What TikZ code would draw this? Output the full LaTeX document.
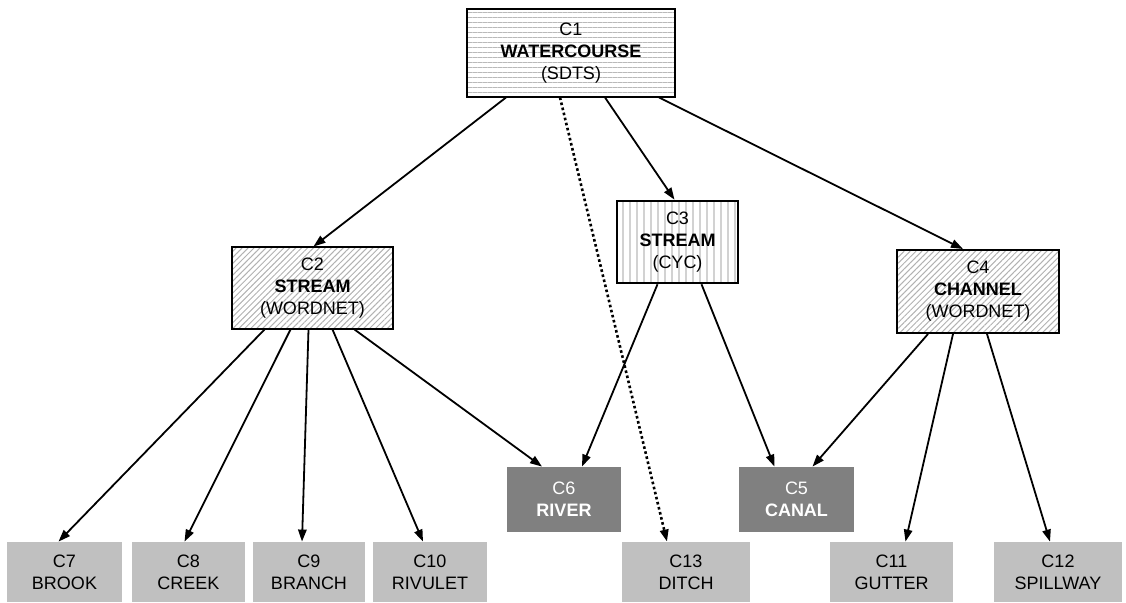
\documentclass[tikz,border=0pt]{standalone}
\usepackage{fontspec}
\setmainfont{Liberation Sans}
\usetikzlibrary{patterns.meta,arrows.meta}

\begin{document}
\begin{tikzpicture}[x=0.5pt,y=-0.5pt,
    every node/.style={font=\fontsize{9}{11}\selectfont, align=center, inner sep=0pt},
    concept/.style={draw=black, line width=1pt},
    sdts/.style={concept, pattern={Lines[angle=0,distance=2.5pt,line width=0.5pt]}, pattern color=gray!55},
    wordnet/.style={concept, pattern={Lines[angle=45,distance=2.1pt,line width=0.5pt]}, pattern color=gray!60},
    cyc/.style={concept, pattern={Lines[angle=90,distance=3.5pt,line width=1.3pt]}, pattern color=gray!35},
    shared/.style={fill={rgb,255:red,128;green,128;blue,128}, text=white, minimum height=32.5pt},
    leaf/.style={fill={rgb,255:red,192;green,192;blue,192}, minimum height=30pt},
    link/.style={line width=0.9pt, -{Triangle[length=6pt,width=4.2pt]}},
    seealso/.style={link, line width=1.3pt, dash pattern=on 1.3pt off 1.3pt}]

    \useasboundingbox (0,0) rectangle (1126,603);

    % source concepts
    \node[sdts, minimum width=104pt, minimum height=44pt] (c1) at (571,53) {C1\\\textbf{WATERCOURSE}\\(SDTS)};
    \node[wordnet, minimum width=80.5pt, minimum height=41pt] (c2) at (312.5,288) {C2\\\textbf{STREAM}\\(WORDNET)};
    \node[cyc, minimum width=60.5pt, minimum height=41pt] (c3) at (677.5,242) {C3\\\textbf{STREAM}\\(CYC)};
    \node[wordnet, minimum width=81pt, minimum height=41.5pt] (c4) at (978,291.5) {C4\\\textbf{CHANNEL}\\(WORDNET)};

    % shared concepts
    \node[shared, minimum width=57pt] (c6) at (564,499.5) {C6\\\textbf{RIVER}};
    \node[shared, minimum width=57.5pt] (c5) at (796.5,499.5) {C5\\\textbf{CANAL}};

    % leaves
    \node[leaf, minimum width=57.5pt] (c7) at (64.5,572) {C7\\BROOK};
    \node[leaf, minimum width=56.5pt] (c8) at (188.5,572) {C8\\CREEK};
    \node[leaf, minimum width=56pt] (c9) at (309,572) {C9\\BRANCH};
    \node[leaf, minimum width=57pt] (c10) at (430,572) {C10\\RIVULET};
    \node[leaf, minimum width=64pt] (c13) at (686,572) {C13\\DITCH};
    \node[leaf, minimum width=61.5pt] (c11) at (891.5,572) {C11\\GUTTER};
    \node[leaf, minimum width=64pt] (c12) at (1058,572) {C12\\SPILLWAY};

    % links
    \draw[link] ([xshift=-32.5pt]c1.south) -- ([xshift=0.5pt]c2.north);
    \draw[link] ([xshift=17pt]c1.south) -- ([xshift=-1.5pt]c3.north);
    \draw[link] ([xshift=44pt]c1.south) -- ([xshift=-7.5pt]c4.north);
    \draw[seealso] ([xshift=-5.5pt]c1.south) -- ([xshift=-9.5pt]c13.north);

    \draw[link] ([xshift=-24pt]c2.south) -- ([xshift=-3pt]c7.north);
    \draw[link] ([xshift=-11pt]c2.south) -- ([xshift=-2pt]c8.north);
    \draw[link] ([xshift=-2pt]c2.south) -- ([xshift=-3.5pt]c9.north);
    \draw[link] ([xshift=10pt]c2.south) -- ([xshift=-3.5pt]c10.north);
    \draw[link] ([xshift=21pt]c2.south) -- ([xshift=-11pt]c6.north);

    \draw[link] ([xshift=-10pt]c3.south) -- ([xshift=9pt]c6.north);
    \draw[link] ([xshift=12pt]c3.south) -- ([xshift=-11pt]c5.north);

    \draw[link] ([xshift=-25pt]c4.south) -- ([xshift=8pt]c5.north);
    \draw[link] ([xshift=-12.5pt]c4.south) -- ([xshift=7pt]c11.north);
    \draw[link] ([xshift=4.5pt]c4.south) -- ([xshift=-4pt]c12.north);
\end{tikzpicture}
\end{document}
